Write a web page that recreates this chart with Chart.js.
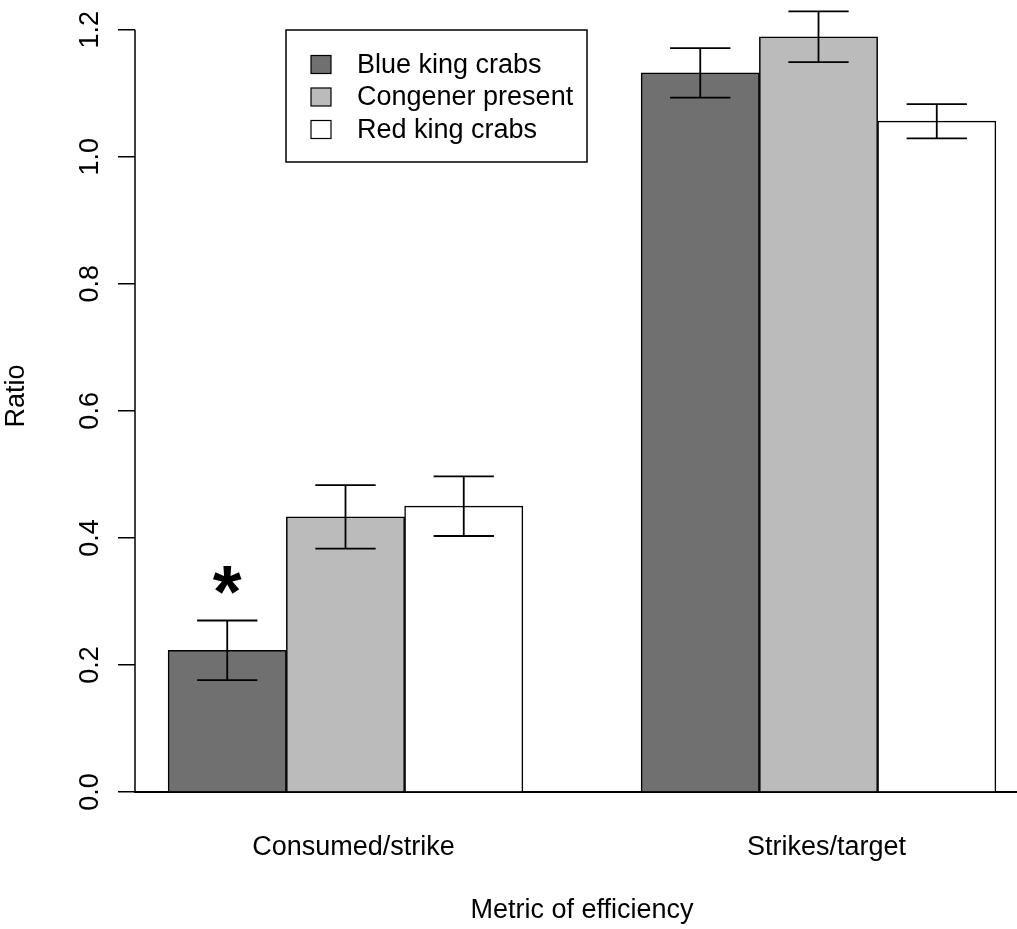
<!DOCTYPE html>
<html>
<head>
<meta charset="utf-8">
<script src="https://cdn.jsdelivr.net/npm/chart.js@4.4.1/dist/chart.umd.min.js"></script>
<style>
  html, body { margin: 0; padding: 0; background: #fff; overflow: hidden; }
  #wrap { width: 1017px; height: 929px; overflow: hidden; }
</style>
</head>
<body>
<div id="wrap"><canvas id="crabChart" width="1029" height="929"></canvas></div>
<script>
var groups = ["Consumed/strike", "Strikes/target"];
var seriesNames = ["Blue king crabs", "Congener present", "Red king crabs"];
var blueKing = [0.223, 1.132];
var congener = [0.433, 1.189];
var redKing = [0.450, 1.056];
var blueErr = [0.047, 0.039];
var congenerErr = [0.050, 0.040];
var redErr = [0.047, 0.027];
var sigMarks = ["*", ""]; // only blue king crabs, first metric

var FONT = "'Liberation Sans', Arial, Helvetica, sans-serif";
var colors = ["#707070", "#bbbbbb", "#ffffff"];
var values = [blueKing, congener, redKing];
var errors = [blueErr, congenerErr, redErr];

// barplot(beside=TRUE) layout: one bar width gap between groups
function barX(g, s) {
  return g * (seriesNames.length + 1) + s + 1.5;
}

var datasets = seriesNames.map(function (name, s) {
  return {
    label: name,
    data: values[s].map(function (v, g) { return { x: barX(g, s), y: v }; }),
    backgroundColor: colors[s],
    borderColor: "#000",
    borderWidth: 1.5,
    errors: errors[s],
  };
});

var errorBars = {
  id: "errorBars",
  afterDatasetsDraw: function (chart) {
    var ctx = chart.ctx;
    var y = chart.scales.y;
    ctx.save();
    ctx.strokeStyle = "#000";
    ctx.lineWidth = 1.8;
    chart.data.datasets.forEach(function (ds, i) {
      var meta = chart.getDatasetMeta(i);
      meta.data.forEach(function (bar, j) {
        var v = ds.data[j].y;
        var e = ds.errors[j];
        var top = y.getPixelForValue(v + e);
        var bot = y.getPixelForValue(v - e);
        var half = bar.width * 0.255;
        ctx.beginPath();
        ctx.moveTo(bar.x, top); ctx.lineTo(bar.x, bot);
        ctx.moveTo(bar.x - half, top); ctx.lineTo(bar.x + half, top);
        ctx.moveTo(bar.x - half, bot); ctx.lineTo(bar.x + half, bot);
        ctx.stroke();
        // significance mark for the first series
        if (i === 0 && sigMarks[j]) {
          ctx.fillStyle = "#000";
          ctx.font = "bold 74px " + FONT;
          ctx.textAlign = "center";
          ctx.textBaseline = "alphabetic";
          ctx.fillText(sigMarks[j], bar.x, top - 3);
        }
      });
    });
    // y axis line from 0 to 1.2 only, like R
    ctx.lineWidth = 1.5;
    ctx.beginPath();
    ctx.moveTo(chart.chartArea.left, y.getPixelForValue(0));
    ctx.lineTo(chart.chartArea.left, y.getPixelForValue(1.2));
    ctx.stroke();
    ctx.restore();
  },
};

// boxed legend inside the plot
var boxLegend = {
  id: "boxLegend",
  afterDraw: function (chart) {
    var ctx = chart.ctx;
    var left = 286, top = 30, w = 301, h = 132;
    ctx.save();
    ctx.strokeStyle = "#000";
    ctx.lineWidth = 1.5;
    ctx.strokeRect(left, top, w, h);
    ctx.font = "27px " + FONT;
    ctx.textBaseline = "middle";
    ctx.textAlign = "left";
    chart.data.datasets.forEach(function (ds, i) {
      var cy = 64.5 + i * 32.5;
      ctx.fillStyle = ds.backgroundColor;
      ctx.fillRect(311, cy - 9, 20, 18);
      ctx.lineWidth = 1.2;
      ctx.strokeRect(311, cy - 9, 20, 18);
      ctx.fillStyle = "#000";
      ctx.fillText(ds.label, 357, cy + 1);
    });
    ctx.restore();
  },
};

var ctx = document.getElementById("crabChart").getContext("2d");

var myChart = new Chart(ctx, {
  type: "bar",
  data: { datasets: datasets },
  options: {
    responsive: false,
    animation: false,
    grouped: false,
    categoryPercentage: 1,
    barPercentage: 1,
    borderSkipped: "start",
    layout: { padding: 0 },
    plugins: {
      legend: { display: false },
      tooltip: { enabled: false },
    },
    scales: {
      x: {
        type: "linear",
        min: 0.72,
        max: 8.28,
        offset: false,
        z: 1,
        grid: { display: false },
        border: { display: true, color: "#000", width: 2 },
        afterBuildTicks: function (scale) {
          scale.ticks = groups.map(function (g, i) {
            return { value: (barX(i, 0) + barX(i, seriesNames.length - 1)) / 2 };
          });
        },
        afterFit: function (scale) {
          scale.height = 137;
          scale.paddingLeft = 0;
          scale.paddingRight = 0;
        },
        ticks: {
          color: "#000",
          font: { family: FONT, size: 27 },
          padding: 31,
          labelOffset: 8,
          maxRotation: 0,
          autoSkip: false,
          callback: function (v, i) { return groups[i]; },
        },
        title: {
          display: true,
          text: "Metric of efficiency",
          color: "#000",
          font: { family: FONT, size: 27 },
          padding: { top: 0, bottom: 2 },
        },
      },
      y: {
        min: 0,
        max: 1.2468,
        afterFit: function (scale) {
          scale.width = 135;
          scale.paddingTop = 0;
          scale.paddingBottom = 0;
        },
        border: { display: false },
        grid: {
          drawOnChartArea: false,
          drawTicks: true,
          tickLength: 17,
          color: "#000",
          lineWidth: 1.5,
        },
        ticks: {
          stepSize: 0.2,
          includeBounds: false,
          minRotation: 90,
          maxRotation: 90,
          crossAlign: "center",
          padding: 9,
          color: "#000",
          font: { family: FONT, size: 27 },
          callback: function (v) { return v.toFixed(1); },
        },
        title: {
          display: true,
          text: "Ratio",
          color: "#000",
          font: { family: FONT, size: 27 },
          padding: { top: 0, bottom: 0 },
        },
      },
    },
  },
  plugins: [errorBars, boxLegend],
});
</script>
</body>
</html>
